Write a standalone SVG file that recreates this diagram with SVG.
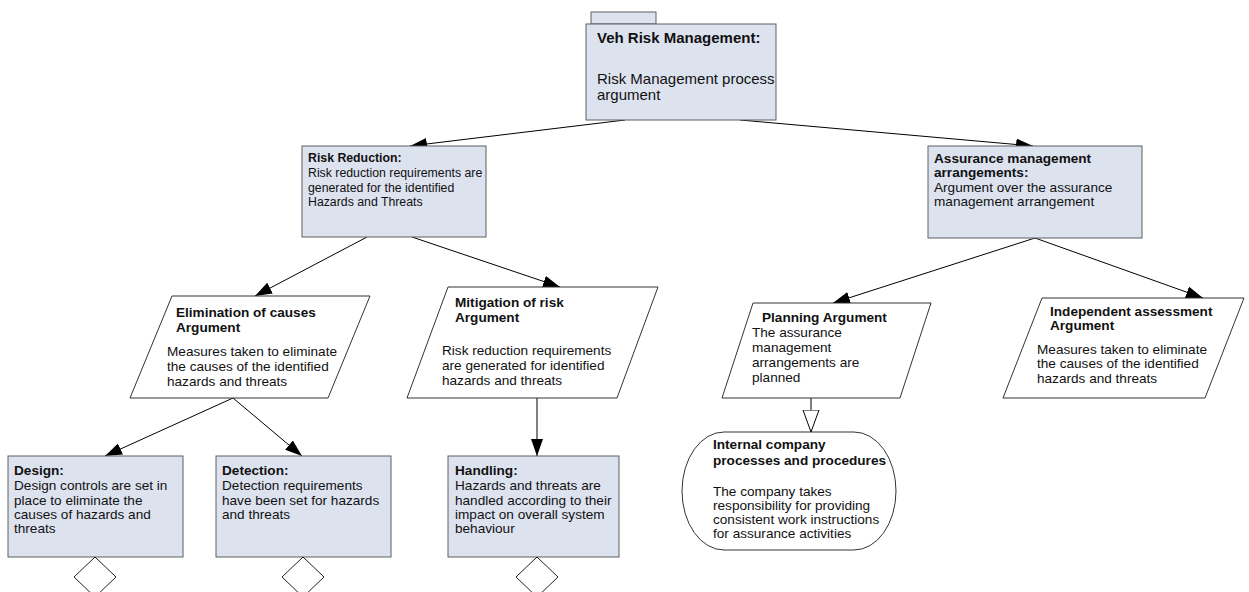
<svg xmlns="http://www.w3.org/2000/svg" width="1249" height="592" viewBox="0 0 1249 592">
<style>
  .box { fill: #dde2ef; stroke: #5f5f5f; stroke-width: 1; }
  .shape { fill: #ffffff; stroke: #333333; stroke-width: 1; }
  .dia { fill: #ffffff; stroke: #222222; stroke-width: 1; }
  .t { font-family: "Liberation Sans", Arial, sans-serif; font-size: 13.6px; fill: #111111; }
  .b { font-weight: bold; }
  .big { font-size: 15px; }
  .sm { font-size: 12.3px; }
  .conn line { stroke: #000000; stroke-width: 1; fill: none; }
</style>
<defs>
  <marker id="arrow" markerUnits="userSpaceOnUse" markerWidth="18" markerHeight="13" refX="17" refY="6" orient="auto">
    <path d="M0,0 L17,6 L0,12 z" fill="#000000"/>
  </marker>
  <marker id="hollow" markerUnits="userSpaceOnUse" markerWidth="24" markerHeight="18" refX="22.5" refY="8.5" orient="auto">
    <path d="M0.5,0.5 L22.5,8.5 L0.5,16.5 z" fill="#ffffff" stroke="#000000" stroke-width="1"/>
  </marker>
</defs>

<g id="connectors" class="conn">
  <line x1="625" y1="120" x2="410" y2="146" marker-end="url(#arrow)"/>
  <line x1="740" y1="120" x2="1033" y2="146" marker-end="url(#arrow)"/>
  <line x1="367" y1="237" x2="255" y2="296" marker-end="url(#arrow)"/>
  <line x1="412" y1="237" x2="560" y2="287" marker-end="url(#arrow)"/>
  <line x1="233" y1="398" x2="105" y2="456" marker-end="url(#arrow)"/>
  <line x1="233" y1="398" x2="302" y2="456" marker-end="url(#arrow)"/>
  <line x1="537" y1="398" x2="537" y2="456" marker-end="url(#arrow)"/>
  <line x1="1035" y1="238" x2="833" y2="303" marker-end="url(#arrow)"/>
  <line x1="1035" y1="238" x2="1203" y2="298" marker-end="url(#arrow)"/>
  <line x1="811" y1="398" x2="811" y2="432" marker-end="url(#hollow)"/>
</g>

<g id="veh-risk-management">
  <rect class="box" x="591" y="12" width="65" height="12"/>
  <rect class="box" x="586" y="24" width="190" height="96"/>
  <text class="t big b" x="597" y="43">Veh Risk Management:</text>
  <text class="t big" x="597" y="83.5">Risk Management process</text>
  <text class="t big" x="597" y="100">argument</text>
</g>

<g id="risk-reduction">
  <rect class="box" x="302" y="146" width="184" height="91"/>
  <text class="t sm b" x="308" y="162">Risk Reduction:</text>
  <text class="t sm" x="308" y="177">Risk reduction requirements are</text>
  <text class="t sm" x="308" y="191.5">generated for the identified</text>
  <text class="t sm" x="308" y="206">Hazards and Threats</text>
</g>

<g id="assurance-management">
  <rect class="box" x="928" y="146" width="214" height="92"/>
  <text class="t b" x="934" y="162.5">Assurance management</text>
  <text class="t b" x="934" y="177">arrangements:</text>
  <text class="t" x="934" y="191.5">Argument over the assurance</text>
  <text class="t" x="934" y="206">management arrangement</text>
</g>

<g id="elimination-of-causes">
  <polygon class="shape" points="172,296 370,296 328,398 130,398"/>
  <text class="t b" x="176" y="317">Elimination of causes</text>
  <text class="t b" x="176" y="332">Argument</text>
  <text class="t" x="167" y="355.5">Measures taken to eliminate</text>
  <text class="t" x="167" y="370.5">the causes of the identified</text>
  <text class="t" x="167" y="385.5">hazards and threats</text>
</g>

<g id="mitigation-of-risk">
  <polygon class="shape" points="448,287 658,287 617,398 407,398"/>
  <text class="t b" x="455" y="307">Mitigation of risk</text>
  <text class="t b" x="455" y="322">Argument</text>
  <text class="t" x="442" y="354.5">Risk reduction requirements</text>
  <text class="t" x="442" y="369.5">are generated for identified</text>
  <text class="t" x="442" y="384.5">hazards and threats</text>
</g>

<g id="planning-argument">
  <polygon class="shape" points="753,303 931,303 900,398 722,398"/>
  <text class="t b" x="762" y="322">Planning Argument</text>
  <text class="t" x="752" y="336.5">The assurance</text>
  <text class="t" x="752" y="351.5">management</text>
  <text class="t" x="752" y="366.5">arrangements are</text>
  <text class="t" x="752" y="381.5">planned</text>
</g>

<g id="independent-assessment">
  <polygon class="shape" points="1042,298 1244,298 1205,398 1003,398"/>
  <text class="t b" x="1050" y="316">Independent assessment</text>
  <text class="t b" x="1050" y="330">Argument</text>
  <text class="t" x="1037" y="353.5">Measures taken to eliminate</text>
  <text class="t" x="1037" y="368">the causes of the identified</text>
  <text class="t" x="1037" y="382.5">hazards and threats</text>
</g>

<g id="design">
  <rect class="box" x="8" y="456" width="175" height="101"/>
  <text class="t b" x="14" y="475">Design:</text>
  <text class="t" x="14" y="490">Design controls are set in</text>
  <text class="t" x="14" y="504.5">place to eliminate the</text>
  <text class="t" x="14" y="519">causes of hazards and</text>
  <text class="t" x="14" y="533">threats</text>
  <polygon class="dia" points="95,557 116,577 95,597 74,577"/>
</g>

<g id="detection">
  <rect class="box" x="216" y="456" width="175" height="101"/>
  <text class="t b" x="222" y="475">Detection:</text>
  <text class="t" x="222" y="490">Detection requirements</text>
  <text class="t" x="222" y="504.5">have been set for hazards</text>
  <text class="t" x="222" y="519">and threats</text>
  <polygon class="dia" points="303,557 324,577 303,597 282,577"/>
</g>

<g id="handling">
  <rect class="box" x="448" y="456" width="171" height="101"/>
  <text class="t b" x="455" y="475">Handling:</text>
  <text class="t" x="455" y="490">Hazards and threats are</text>
  <text class="t" x="455" y="504.5">handled according to their</text>
  <text class="t" x="455" y="519">impact on overall system</text>
  <text class="t" x="455" y="533">behaviour</text>
  <polygon class="dia" points="537,557 558,577 537,597 516,577"/>
</g>

<g id="internal-company-processes">
  <rect class="shape" x="682" y="432" width="214" height="118" rx="42" ry="59"/>
  <text class="t b" x="713" y="448.5">Internal company</text>
  <text class="t b" x="713" y="465">processes and procedures</text>
  <text class="t" x="713" y="496">The company takes</text>
  <text class="t" x="713" y="510">responsibility for providing</text>
  <text class="t" x="713" y="524">consistent work instructions</text>
  <text class="t" x="713" y="538">for assurance activities</text>
</g>
</svg>
